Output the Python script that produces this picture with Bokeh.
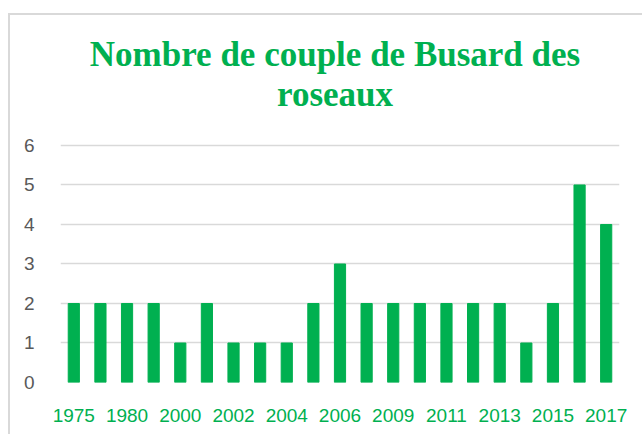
from bokeh.plotting import figure
from bokeh.models import Range1d, FixedTicker, Label, ColumnDataSource
from bokeh.embed import file_html
from bokeh.resources import INLINE

years = ["1975", "1977", "1980", "1990", "2000", "2001", "2002", "2003", "2004", "2005",
         "2006", "2007", "2009", "2010", "2011", "2012", "2013", "2014", "2015", "2016", "2017"]
couples = [2, 2, 2, 2, 1, 2, 1, 1, 1, 2, 3, 2, 2, 2, 2, 2, 2, 1, 2, 5, 4]
y_ticks = [0, 1, 2, 3, 4, 5, 6]
title_lines = ["Nombre de couple de Busard des", "roseaux"]

GREEN = "#00B050"
GRAY = "#595959"
GRID = "#d9d9d9"

idx = list(range(len(years)))
src = ColumnDataSource(dict(x=idx, top=couples, year=years))

# the frame extends above the value axis to leave room for the title
p = figure(width=634, height=421, output_backend="svg", toolbar_location=None,
           x_range=Range1d(-0.5, len(years) - 0.5), y_range=Range1d(0, 9.29),
           min_border_left=50, min_border_right=25, min_border_top=0, min_border_bottom=54,
           margin=(13, 0, 0, 8),
           styles={"border-left": "2px solid #d9d9d9", "border-top": "2px solid #d9d9d9"})
p.outline_line_color = None
p.background_fill_color = "white"
p.border_fill_color = "white"

p.vbar(x="x", top="top", width=0.42, source=src, fill_color=GREEN, line_color=GREEN)

# two-line centred title
for line, off in zip(title_lines, [91, 51]):
    p.add_layout(Label(x=(len(years) - 1) / 2, y=max(y_ticks), x_offset=-5, y_offset=off,
                       text=line, text_align="center", text_baseline="middle",
                       text_font="Liberation Serif", text_font_style="bold",
                       text_font_size="35px", text_color=GREEN))

# axes
p.xaxis.ticker = FixedTicker(ticks=idx[::2])
p.xaxis.major_label_overrides = {i: years[i] for i in idx[::2]}
p.xaxis.major_label_text_color = GREEN
p.xaxis.major_label_text_font = "Liberation Sans"
p.xaxis.major_label_text_font_size = "19px"
p.xaxis.major_label_standoff = 20
p.xaxis.major_tick_line_color = None
p.xaxis.minor_tick_line_color = None
p.xaxis.axis_line_color = None

p.yaxis.ticker = FixedTicker(ticks=y_ticks)
p.yaxis.major_label_text_color = GRAY
p.yaxis.major_label_text_font = "Liberation Sans"
p.yaxis.major_label_text_font_size = "19px"
p.yaxis.major_label_standoff = 20
p.yaxis.major_tick_line_color = None
p.yaxis.minor_tick_line_color = None
p.yaxis.axis_line_color = None

p.xgrid.grid_line_color = None
p.ygrid.ticker = FixedTicker(ticks=y_ticks)
p.ygrid.grid_line_color = GRID
p.ygrid.grid_line_width = 1.5

open("out.html", "w").write(file_html(p, INLINE))
